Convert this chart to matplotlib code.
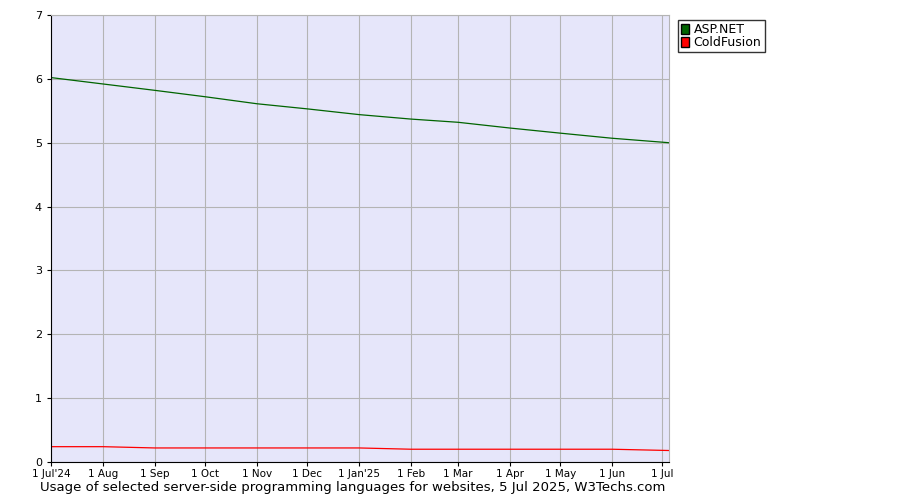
import numpy as np
import datetime as dt
from matplotlib import pyplot as plt
from matplotlib.patches import Patch

start = dt.date(2024, 7, 1)
dates = [dt.date(2024, m, 1) for m in range(7, 13)] + [dt.date(2025, m, 1) for m in range(1, 8)] + [dt.date(2025, 7, 5)]
tick_labels = ["1 Jul'24", "1 Aug", "1 Sep", "1 Oct", "1 Nov", "1 Dec", "1 Jan'25",
               "1 Feb", "1 Mar", "1 Apr", "1 May", "1 Jun", "1 Jul"]
aspnet = [6.02, 5.92, 5.82, 5.72, 5.61, 5.53, 5.44, 5.37, 5.32, 5.23, 5.15, 5.07, 5.00, 4.99]
coldfusion = [0.24, 0.24, 0.22, 0.22, 0.22, 0.22, 0.22, 0.20, 0.20, 0.20, 0.20, 0.20, 0.18, 0.18]

days = np.array([(d - start).days for d in dates])
aspnet = aspnet[:12] + [aspnet[12]]
coldfusion = coldfusion[:12] + [coldfusion[12]]
x = np.append(days[:12], days[13])

fig = plt.figure(figsize=(9, 5), dpi=100)
ax = fig.add_axes([51 / 900, 38 / 500, 618 / 900, 447 / 500])
ax.set_facecolor("#e6e6fa")
ax.plot(x, aspnet, color="#006400", linewidth=0.9)
ax.plot(x, coldfusion, color="#ff0000", linewidth=0.9)
ax.set_xlim(0, days[-1])
ax.set_ylim(0, 7)
ax.set_xticks(days[:13])
ax.set_xticklabels(tick_labels, fontsize=7.5, family="DejaVu Sans")
ax.set_yticks(range(8))
ax.tick_params(axis="y", labelsize=8, length=3)
ax.tick_params(axis="x", length=3, pad=2)
ax.grid(True, color="#b4b4b4", linewidth=0.8)
ax.set_axisbelow(True)
for s in ["top", "right"]:
    ax.spines[s].set_color("#b4b4b4")

fig.text(40 / 900, 1 - 488 / 500, "Usage of selected server-side programming languages for websites, 5 Jul 2025, W3Techs.com",
         fontsize=9.5, va="center", ha="left")

handles = [Patch(facecolor="#006400", edgecolor="black", label="ASP.NET"),
           Patch(facecolor="#ff0000", edgecolor="black", label="ColdFusion")]
fig.legend(handles=handles, loc="upper left", bbox_to_anchor=(678 / 900, 1 - 20 / 500), fontsize=9,
           frameon=True, fancybox=False, edgecolor="black", handlelength=0.6, handleheight=0.9,
           handletextpad=0.4, borderpad=0.25, labelspacing=0.0, borderaxespad=0)

fig.savefig("out.png", dpi=100)
